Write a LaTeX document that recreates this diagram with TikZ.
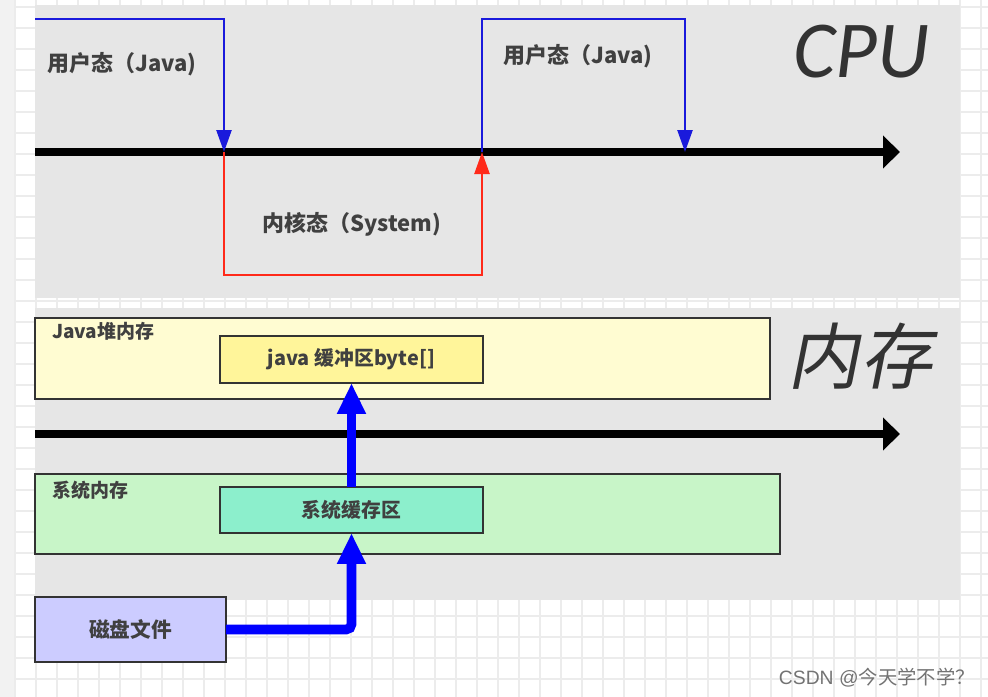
\documentclass[tikz,border=0pt]{standalone}
\usepackage{fontspec}
\setmainfont{Noto Sans CJK SC}
\newfontfamily\cputitle{Carlito}
\newfontfamily\memtitle[FakeSlant=0.2]{Noto Sans CJK SC}
\newfontfamily\markfont{Liberation Sans}
\usetikzlibrary{arrows.meta}

\definecolor{paneGray}{HTML}{E6E6E6}
\definecolor{gridGray}{HTML}{ECECEC}
\definecolor{heapYellow}{HTML}{FFFCD2}
\definecolor{bufYellow}{HTML}{FFF59A}
\definecolor{sysGreen}{HTML}{C8F5C8}
\definecolor{cacheGreen}{HTML}{8CEFCC}
\definecolor{diskBlue}{HTML}{CCCCFF}
\definecolor{lineBlue}{HTML}{1A1ADC}
\definecolor{lineRed}{HTML}{FF2A1A}

\tikzset{
	box/.style={draw=black!80, line width=1.2pt, inner sep=0pt, outer sep=0pt,
		font=\bfseries\fontsize{11.3}{13}\selectfont, text=black!75},
	label/.style={font=\bfseries\fontsize{12.5}{14}\selectfont, text=black!75},
	smalllabel/.style={font=\bfseries\fontsize{10.8}{12}\selectfont, text=black!75},
	timeline/.style={line width=5pt, -{Triangle[length=0.34cm,width=0.64cm]}},
	usermode/.style={lineBlue, line width=1.4pt, -{Triangle[length=0.44cm,width=0.3cm]}},
	kernelmode/.style={lineRed, line width=1.4pt, -{Triangle[length=0.44cm,width=0.3cm]}},
	dataflow/.style={blue, line width=5.5pt, rounded corners=3pt, -{Triangle[length=0.62cm,width=0.54cm]}}
}

\begin{document}
\begin{tikzpicture}[x=0.02cm, y=-0.02cm]
	\useasboundingbox (0,0) rectangle (988,697);
	% Hintergrund
	\fill[white] (0,0) rectangle (988,697);
	\fill[black!5] (0,0) rectangle (15,697);
	\foreach \x in {15,36,...,988}
		\draw[gridGray, line width=0.8pt] (\x,0) -- (\x,697);
	\foreach \y in {7,28,...,697}
		\draw[gridGray, line width=0.8pt] (15,\y) -- (988,\y);
	\fill[paneGray] (35,5) rectangle (960,298);
	\fill[paneGray] (35,308) rectangle (960,600);

	% CPU
	\node[anchor=base, font=\cputitle\itshape\fontsize{46}{46}\selectfont, text=black!80] (cpu) at (861,77) {CPU};
	\coordinate (cpuStart) at (35,152);
	\coordinate (cpuEnd) at (900,152);
	\coordinate (toKernel) at (224,152);
	\coordinate (toUser) at (482,152);
	\coordinate (userEnd) at (685,152);
	\draw[timeline] (cpuStart) -- (cpuEnd);
	\draw[usermode] (35,19) -| (toKernel);
	\draw[kernelmode] (toKernel) -- (224,275) -| (toUser);
	\draw[usermode] (toUser) -- (482,19) -| (userEnd);
	\node[label] (user1) at (122,64) {用户态（Java)};
	\node[label] (user2) at (578,56) {用户态（Java)};
	\node[label] (kernel) at (352,224) {内核态（System)};

	% Speicher
	\node[anchor=base, font=\memtitle\fontsize{41}{41}\selectfont, text=black!80] (mem) at (860,383) {内存};
	\node[box, fill=heapYellow, minimum width=14.7cm, minimum height=1.62cm, anchor=north west] (heap) at (35,318) {};
	\node[smalllabel, anchor=west] (heapname) at (46,331) {Java堆内存};
	\node[box, fill=bufYellow, minimum width=5.26cm, minimum height=0.94cm] (javabuf) at (351.5,359.5) {java 缓冲区byte[]};
	\draw[timeline] (35,434) -- (900,434);
	\node[box, fill=sysGreen, minimum width=14.9cm, minimum height=1.6cm, anchor=north west] (sysmem) at (35,474) {};
	\node[smalllabel, anchor=west] (sysname) at (46,490) {系统内存};
	\node[box, fill=cacheGreen, minimum width=5.26cm, minimum height=0.92cm] (sysbuf) at (351.5,510) {系统缓存区};
	\node[box, fill=diskBlue, minimum width=3.82cm, minimum height=1.3cm, font=\bfseries\fontsize{11.8}{13}\selectfont] (disk) at (130.5,629.5) {磁盘文件};
	\draw[dataflow] (disk.east) -| (sysbuf.south);
	\draw[dataflow] (sysbuf.north) -- (javabuf.south);

	\node[font=\markfont\fontsize{11}{12}\selectfont, text=black!55, inner sep=0pt, anchor=east] (mark) at (975,678) {CSDN @\fontspec{Noto Sans CJK SC}今天学不学？};
\end{tikzpicture}
\end{document}
